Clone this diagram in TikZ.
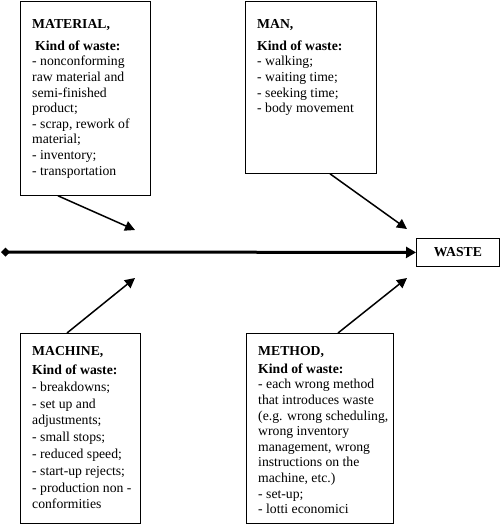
\documentclass[tikz,border=0pt]{standalone}
\usepackage{fontspec}
\setmainfont{Liberation Serif}
\usepackage{tikz}
\usetikzlibrary{arrows.meta}

\begin{document}
\begin{tikzpicture}[x=1pt, y=-1pt,
      box/.style={draw, thick, anchor=north west, inner sep=0pt},
      txt/.style={anchor=north west, inner sep=0pt, align=left,
        font=\fontsize{13.7}{15.6}\selectfont},
      spine/.style={line width=3pt, {Diamond[length=9pt,width=9pt]}-{Triangle[length=10pt,width=11pt]}},
      bone/.style={line width=1.5pt, -{Triangle[length=10pt,width=10pt]}}]
      \useasboundingbox (0,0) rectangle (501,525);
      % boxes
      \node[box, minimum width=130pt, minimum height=194pt] (mat) at (20,1) {};
      \node[box, minimum width=131pt, minimum height=172pt] (man) at (245,1) {};
      \node[box, minimum width=120pt, minimum height=190pt] (mach) at (20,333) {};
      \node[box, minimum width=147pt, minimum height=190pt] (meth) at (246,333) {};
      \node[box, minimum width=83pt, minimum height=28pt, font=\fontsize{13.7}{15.6}\selectfont\bfseries] (waste) at (416,238) {WASTE};
      % texts
      \node[txt] (matTxt) at (32,19) {\textbf{MATERIAL,}\\[6.5pt]
        \hspace{3pt}\textbf{Kind of waste:}\\
        - nonconforming\\
        raw material and\\
        semi-finished\\
        product;\\
        - scrap, rework of\\
        material;\\
        - inventory;\\
        - transportation};
      \node[txt] (manTxt) at (257,19) {\textbf{MAN,}\\[6.5pt]
        \textbf{Kind of waste:}\\
        - walking;\\
        - waiting time;\\
        - seeking time;\\
        - body movement};
      \node[txt, font=\fontsize{13.7}{16.8}\selectfont] (machTxt) at (32,346) {\textbf{MACHINE,}\\[2.5pt]
        \textbf{Kind of waste:}\\
        - breakdowns;\\
        - set up and\\
        adjustments;\\
        - small stops;\\
        - reduced speed;\\
        - start-up rejects;\\
        - production non -\\
        conformities};
      \node[txt] (methTxt) at (258,346) {\textbf{METHOD,}\\[2.5pt]
        \textbf{Kind of waste:}\\
        - each wrong method\\
        that introduces waste\\
        (e.g. wrong scheduling,\\
        wrong inventory\\
        management, wrong\\
        instructions on the\\
        machine, etc.)\\
        - set-up;\\
        - lotti economici};
      % spine and bones
      \coordinate (tail) at (1,252);
      \coordinate (matTip) at (135,230);
      \coordinate (manTip) at (407,229);
      \coordinate (machTip) at (135,278);
      \coordinate (methTip) at (407,278);
      \draw[spine] (tail) -- (waste.west);
      \draw[bone] ([xshift=38pt]mat.south west) -- (matTip);
      \draw[bone] ([xshift=85pt]man.south west) -- (manTip);
      \draw[bone] ([xshift=47pt]mach.north west) -- (machTip);
      \draw[bone] ([xshift=92pt]meth.north west) -- (methTip);
\end{tikzpicture}
\end{document}
